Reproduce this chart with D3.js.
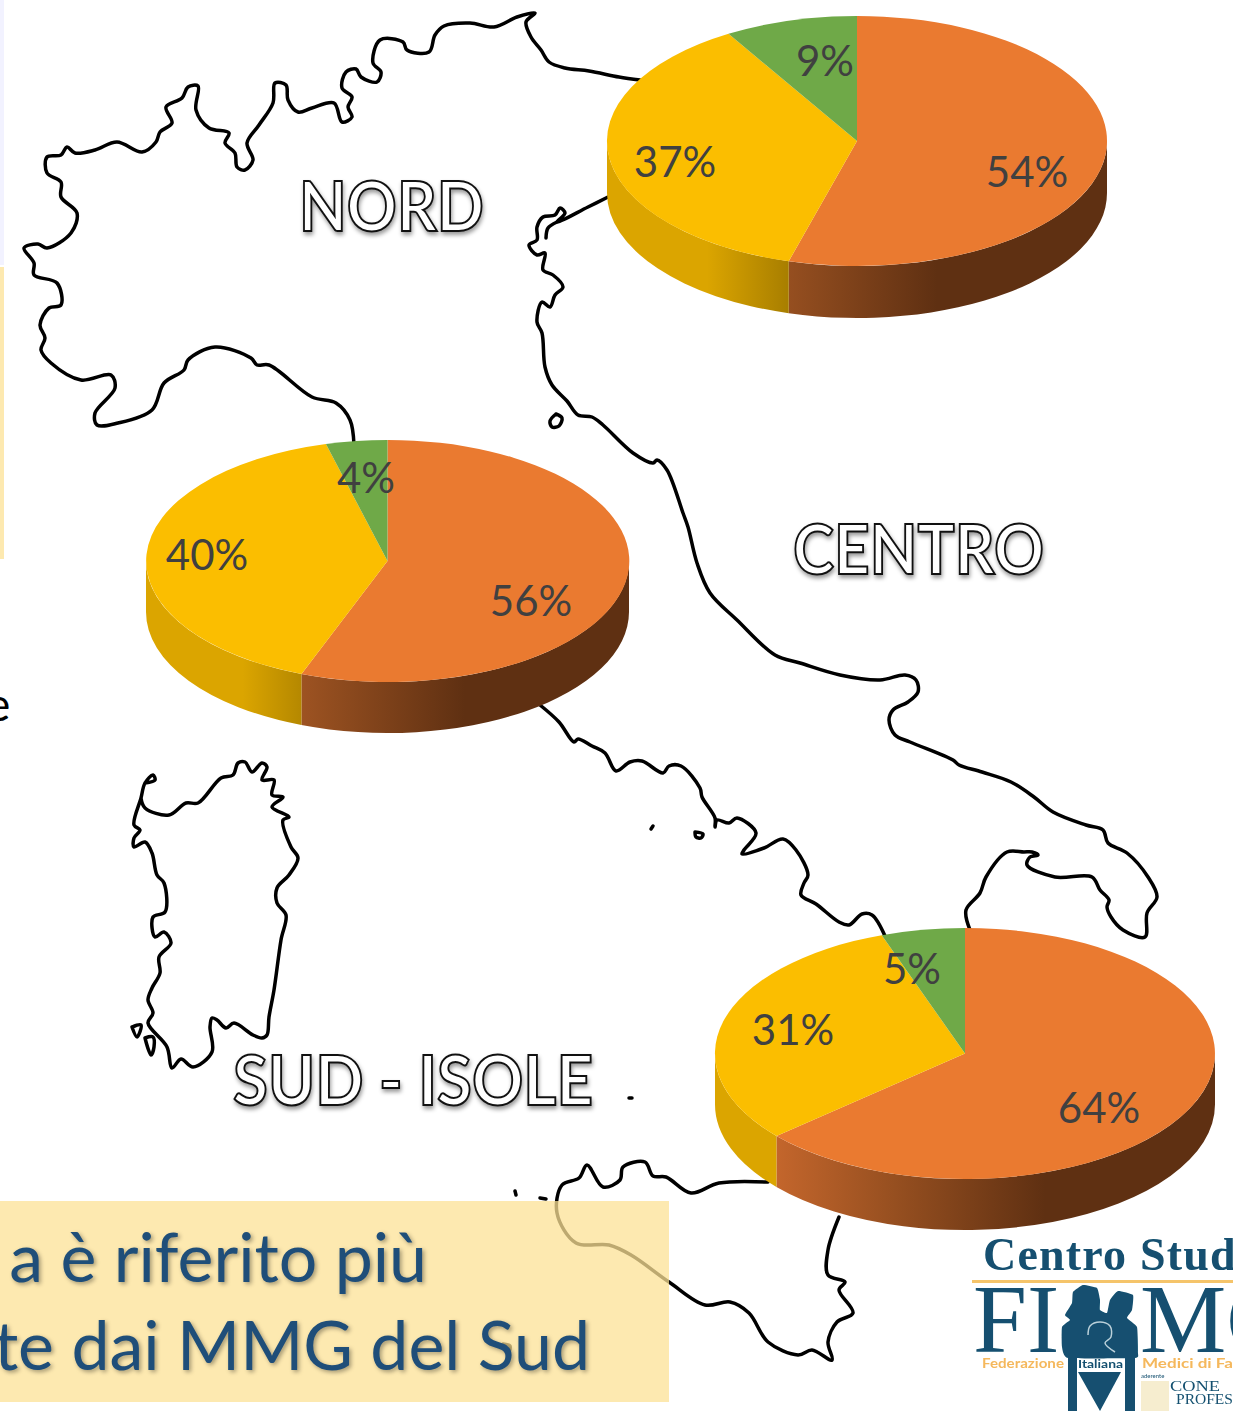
<!DOCTYPE html>
<html>
<head>
<meta charset="utf-8">
<script src="https://cdn.jsdelivr.net/npm/d3@7"></script>
<style>
  html, body { margin: 0; padding: 0; background: #fff; overflow: hidden; }
  svg { display: block; }
  text { font-family: Lato, "Open Sans", sans-serif; }
</style>
</head>
<body>
<div id="chart"></div>
<script>
// pie data, one small list per area (orange, yellow, green)
var nordValues = [54.4, 37.0, 8.6];
var centroValues = [55.8, 40.1, 4.1];
var sudValues = [63.6, 31.0, 5.4];
var sliceColors = ['#ea7a30', '#fbbe00', '#6fa948'];

// ----- map outline
var mainland1 = [[640,80],[619,77],[589,71],[565,68],[549,62],[541,50],[531,37],[526,22],[535,13],[517,17],[494,27],[470,23],[444,26],[435,35],[429,52],[407,50],[403,42],[380,40],[373,63],[381,72],[377,82],[361,77],[356,69],[346,72],[342,88],[352,97],[348,107],[352,117],[342,122],[334,103],[312,108],[298,112],[288,100],[286,85],[275,83],[273,103],[259,125],[247,143],[253,160],[245,170],[237,167],[235,153],[225,143],[229,133],[209,128],[196,110],[198,86],[188,87],[182,98],[166,107],[172,123],[160,132],[156,142],[142,152],[117,142],[95,150],[75,153],[67,147],[61,155],[47,157],[47,173],[61,182],[61,197],[77,213],[71,233],[47,248],[38,244],[24,248],[34,263],[34,275],[57,283],[61,305],[49,308],[40,325],[45,338],[41,350],[51,363],[81,380],[111,375],[115,388],[95,413],[97,425],[118,423],[152,410],[164,383],[184,370],[188,360],[215,347],[251,358],[257,365],[269,365],[312,397],[336,403],[350,420],[354,445]];
var mainland2 = [[540,705],[559,722],[574,742],[578,739],[592,746],[605,753],[616,771],[630,762],[642,761],[663,773],[669,766],[681,766],[700,788],[702,797],[715,818],[715,827],[717,820],[729,823],[737,818],[756,833],[744,850],[742,854],[764,848],[783,839],[796,850],[808,875],[804,883],[801,895],[816,904],[839,922],[849,925],[862,914],[872,915],[885,936]];
var mainland3 = [[970,930],[966,910],[980,893],[986,877],[1007,852],[1024,852],[1032,852],[1038,855],[1030,857],[1027,865],[1055,877],[1092,877],[1100,890],[1109,900],[1107,907],[1111,917],[1123,930],[1145,937],[1147,913],[1157,897],[1148,877],[1127,853],[1108,843],[1103,830],[1086,825],[1053,812],[1034,797],[1011,782],[982,772],[959,765],[953,760],[910,742],[895,735],[889,720],[893,710],[908,702],[918,692],[916,680],[905,675],[880,680],[840,675],[800,663],[775,655],[737,620],[710,593],[697,563],[688,527],[683,513],[667,470],[657,460],[653,463],[633,453],[603,425],[592,417],[578,415],[567,401],[552,385],[545,367],[542,333],[537,322],[542,302],[550,307],[555,295],[563,287],[553,275],[543,270],[545,253],[537,255],[529,245],[537,240],[537,227],[543,217],[555,215],[560,208],[565,213],[557,222],[588,207],[610,196]];
var venice = [[557,222],[548,228],[546,238]];
var elba = [[556,414],[562,418],[559,426],[552,427],[550,421],[556,414]];
var sicily = [[768,1182],[719,1183],[691,1193],[666,1177],[653,1176],[645,1162],[623,1167],[620,1180],[603,1187],[587,1165],[579,1178],[562,1185],[557,1213],[576,1243],[609,1245],[631,1255],[669,1282],[705,1305],[730,1302],[749,1313],[768,1342],[798,1355],[812,1350],[832,1360],[828,1342],[837,1322],[853,1313],[839,1290],[845,1282],[828,1275],[828,1250],[839,1217]];
var sardinia = [[141,798],[145,808],[169,815],[186,803],[198,803],[221,778],[233,775],[238,763],[245,762],[252,772],[262,763],[267,767],[262,780],[274,780],[272,795],[283,797],[272,807],[289,817],[283,820],[291,847],[298,858],[289,875],[277,888],[277,903],[286,915],[281,940],[274,990],[269,1017],[267,1035],[262,1038],[253,1035],[234,1023],[226,1028],[217,1020],[212,1018],[210,1027],[212,1052],[193,1067],[181,1059],[172,1068],[167,1047],[148,1023],[153,1013],[148,1000],[152,988],[160,973],[159,957],[171,943],[164,932],[155,937],[153,917],[165,912],[164,883],[157,875],[152,853],[145,842],[134,847],[134,838],[140,830],[134,825],[141,798],[145,783],[153,775],[155,780],[145,783]];
var islets = [
  [[132,1027],[141,1025],[137,1037],[132,1027]],
  [[145,1038],[153,1037],[154,1047],[151,1055],[145,1038]],
  [[695,832],[703,834],[701,838],[696,837],[695,832]],
  [[651,829],[653,826]],
  [[629,1098],[632,1098]],
  [[515,1191],[516,1195]],
  [[540,1198],[546,1199]],
  [[503,1344],[510,1346],[509,1352]]
];

var svg = d3.select('#chart').append('svg')
  .attr('width', 1233)
  .attr('height', 1411);

var defs = svg.append('defs');

defs.append('filter').attr('id', 'soft')
  .append('feGaussianBlur').attr('stdDeviation', 0.5);

// side wall gradients, same for all three pies
function addGradient(id, stops) {
  var g = defs.append('linearGradient').attr('id', id);
  stops.forEach(function (s) {
    g.append('stop').attr('offset', s[0]).attr('stop-color', s[1]);
  });
}
addGradient('sideOrange', [[0.12, '#c4662c'], [0.36, '#964f20'], [0.66, '#5f3012'], [1, '#5f3012']]);
addGradient('sideYellow', [[0, '#dba500'], [0.2, '#dba500'], [0.36, '#a97f00'], [1, '#a97f00']]);

// slide leftovers on the left edge
svg.append('rect').attr('x', 0).attr('y', 0).attr('width', 4).attr('height', 265).attr('fill', '#f2f2ff');
svg.append('rect').attr('x', 0).attr('y', 267).attr('width', 4).attr('height', 292).attr('fill', '#fde9b0');
svg.append('text').attr('x', -14).attr('y', 721).attr('font-size', 46).attr('fill', '#000').text('e');

// map
var line = d3.line().curve(d3.curveCatmullRom.alpha(0.5));
var mapLayer = svg.append('g')
  .attr('fill', 'none')
  .attr('stroke', '#000')
  .attr('stroke-width', 3.5)
  .attr('stroke-linejoin', 'round')
  .attr('stroke-linecap', 'round')
  .attr('filter', 'url(#soft)');

[mainland1, mainland2, mainland3, venice, elba, sicily, sardinia].concat(islets).forEach(function (pts) {
  mapLayer.append('path').attr('d', line(pts));
});

// area labels, white with a black outline
function areaLabel(txt, x, y, len) {
  svg.append('text')
    .text(txt)
    .attr('x', x)
    .attr('y', y)
    .attr('font-size', 68)
    .attr('font-weight', 700)
    .attr('textLength', len)
    .attr('lengthAdjust', 'spacingAndGlyphs')
    .attr('fill', '#fff')
    .attr('stroke', '#111')
    .attr('stroke-width', 2)
    .style('filter', 'drop-shadow(1px 3px 2px rgba(0,0,0,0.4))');
}
areaLabel('NORD', 299, 231, 185);
areaLabel('CENTRO', 793, 574, 251);
areaLabel('SUD - ISOLE', 233, 1105, 360);

// pies
var pieGen = d3.pie().sort(null).value(function (d) { return d; });

function drawPie(values, cx, cy, rx, ry, depth, labelPos) {
  var x = d3.scaleLinear().domain([-1, 1]).range([cx - rx, cx + rx]);
  var y = d3.scaleLinear().domain([-1, 1]).range([cy - ry, cy + ry]);
  var slices = pieGen(values);
  var g = svg.append('g');

  // gradient coordinates follow the pie width
  ['sideOrange', 'sideYellow'].forEach(function (id) {
    defs.append('linearGradient')
      .attr('id', id + cx)
      .attr('href', '#' + id)
      .attr('gradientUnits', 'userSpaceOnUse')
      .attr('x1', cx - rx).attr('x2', cx + rx)
      .attr('y1', 0).attr('y2', 0);
  });

  // side wall, only the front half is visible
  slices.forEach(function (s, i) {
    var from = Math.max(s.startAngle, Math.PI / 2);
    var to = Math.min(s.endAngle, 3 * Math.PI / 2);
    if (from >= to) return;
    var x0 = x(Math.sin(from)), y0 = y(-Math.cos(from));
    var x1 = x(Math.sin(to)), y1 = y(-Math.cos(to));
    var d = 'M' + x0 + ',' + y0 +
      'A' + rx + ',' + ry + ' 0 0 1 ' + x1 + ',' + y1 +
      'L' + x1 + ',' + (y1 + depth) +
      'A' + rx + ',' + ry + ' 0 0 0 ' + x0 + ',' + (y0 + depth) + 'Z';
    g.append('path')
      .attr('d', d)
      .attr('fill', i === 0 ? 'url(#sideOrange' + cx + ')' : 'url(#sideYellow' + cx + ')');
  });

  // top face
  var arc = d3.arc().innerRadius(0).outerRadius(1);
  g.append('g')
    .attr('transform', 'translate(' + cx + ',' + cy + ') scale(' + rx + ',' + ry + ')')
    .selectAll('path')
    .data(slices)
    .join('path')
    .attr('d', arc)
    .attr('fill', function (d, i) { return sliceColors[i]; });

  g.selectAll('text')
    .data(slices)
    .join('text')
    .attr('x', function (d, i) { return labelPos[i][0]; })
    .attr('y', function (d, i) { return labelPos[i][1]; })
    .attr('text-anchor', 'middle')
    .attr('font-size', 42)
    .attr('fill', '#404040')
    .text(function (d) { return Math.round(d.value) + '%'; });
}

drawPie(nordValues, 857, 141, 250, 125, 52, [[1027, 187], [675, 177], [825, 76]]);
drawPie(centroValues, 387.5, 561, 241.5, 121, 51, [[531, 616], [207, 570], [366, 493]]);
drawPie(sudValues, 965, 1053.5, 250, 125.5, 51, [[1099, 1123], [793, 1045], [912, 984]]);

// note box, semi transparent over the map
svg.append('rect')
  .attr('x', 0).attr('y', 1201)
  .attr('width', 669).attr('height', 201)
  .attr('fill', 'rgb(252,226,150)')
  .attr('fill-opacity', 0.75);

var noteLines = ['a è riferito più', 'te dai MMG del Sud'];
svg.selectAll('text.note')
  .data(noteLines)
  .join('text')
  .attr('class', 'note')
  .attr('x', function (d, i) { return i === 0 ? 427 : 590; })
  .attr('y', function (d, i) { return i === 0 ? 1282 : 1370; })
  .attr('text-anchor', 'end')
  .attr('font-size', 68)
  .attr('fill', '#1f4e79')
  .style('filter', 'drop-shadow(2px 2px 2px rgba(0,0,0,0.35))')
  .text(function (d) { return d; });

// logo in the corner
var logoBlue = '#13506f';
var logoOrange = '#f5b85c';
var logo = svg.append('g').attr('filter', 'url(#soft)');
logo.append('text').text('Centro Stud')
  .attr('x', 983).attr('y', 1270)
  .attr('font-size', 46).attr('font-weight', 700)
  .attr('letter-spacing', 1.2)
  .style('font-family', '"Liberation Serif", serif')
  .attr('fill', logoBlue);
logo.append('rect').attr('x', 972).attr('y', 1280).attr('width', 261).attr('height', 3).attr('fill', '#f5c46a');
logo.append('text').text('FI')
  .attr('x', 973).attr('y', 1352)
  .attr('font-size', 97)
  .style('font-family', '"Liberation Serif", serif')
  .attr('fill', logoBlue);
logo.append('text').text('MC')
  .attr('x', 1140).attr('y', 1352)
  .attr('font-size', 97)
  .style('font-family', '"Liberation Serif", serif')
  .attr('fill', logoBlue);

var logoBody = [[1062,1327],[1070,1320],[1065,1315],[1072,1303],[1073,1292],[1083,1285],[1097,1288],[1100,1300],[1100,1310],[1107,1313],[1110,1300],[1118,1291],[1133,1295],[1132,1310],[1127,1318],[1137,1327],[1138,1353],[1135,1358],[1068,1358],[1062,1347]];
logo.append('path')
  .attr('d', d3.line().curve(d3.curveCardinalClosed.tension(0.6))(logoBody))
  .attr('fill', logoBlue);
var childLine = [[1088,1335],[1090,1326],[1100,1322],[1110,1326],[1111,1337],[1105,1343],[1115,1352]];
logo.append('path')
  .attr('d', line(childLine))
  .attr('fill', 'none')
  .attr('stroke', '#bcd0da')
  .attr('stroke-width', 1.5);
logo.append('rect').attr('x', 1068).attr('y', 1358).attr('width', 9).attr('height', 53).attr('fill', logoBlue);
logo.append('rect').attr('x', 1125).attr('y', 1358).attr('width', 10).attr('height', 53).attr('fill', logoBlue);
logo.append('path')
  .attr('d', d3.line()([[1078,1372],[1121,1372],[1100,1411]]) + 'Z')
  .attr('fill', logoBlue);
logo.append('text').text('Federazione')
  .attr('x', 982).attr('y', 1368)
  .attr('font-size', 14).attr('font-weight', 700)
  .attr('textLength', 82).attr('lengthAdjust', 'spacingAndGlyphs')
  .attr('fill', logoOrange);
logo.append('text').text('Italiana')
  .attr('x', 1078).attr('y', 1368)
  .attr('font-size', 11).attr('font-weight', 700)
  .attr('textLength', 45).attr('lengthAdjust', 'spacingAndGlyphs')
  .attr('fill', logoBlue);
logo.append('text').text('Medici di Fa')
  .attr('x', 1142).attr('y', 1368)
  .attr('font-size', 14).attr('font-weight', 700)
  .attr('textLength', 91).attr('lengthAdjust', 'spacingAndGlyphs')
  .attr('fill', logoOrange);
logo.append('text').text('aderente')
  .attr('x', 1141).attr('y', 1378)
  .attr('font-size', 6)
  .attr('fill', logoBlue);
logo.append('rect').attr('x', 1141).attr('y', 1381).attr('width', 28).attr('height', 30).attr('fill', '#f6edcf');
logo.append('text').text('CONE')
  .attr('x', 1170).attr('y', 1391)
  .attr('font-size', 15)
  .attr('textLength', 50).attr('lengthAdjust', 'spacingAndGlyphs')
  .style('font-family', '"Liberation Serif", serif')
  .attr('fill', logoBlue);
logo.append('text').text('PROFES')
  .attr('x', 1176).attr('y', 1404)
  .attr('font-size', 15)
  .attr('textLength', 57).attr('lengthAdjust', 'spacingAndGlyphs')
  .style('font-family', '"Liberation Serif", serif')
  .attr('fill', logoBlue);
</script>
</body>
</html>
